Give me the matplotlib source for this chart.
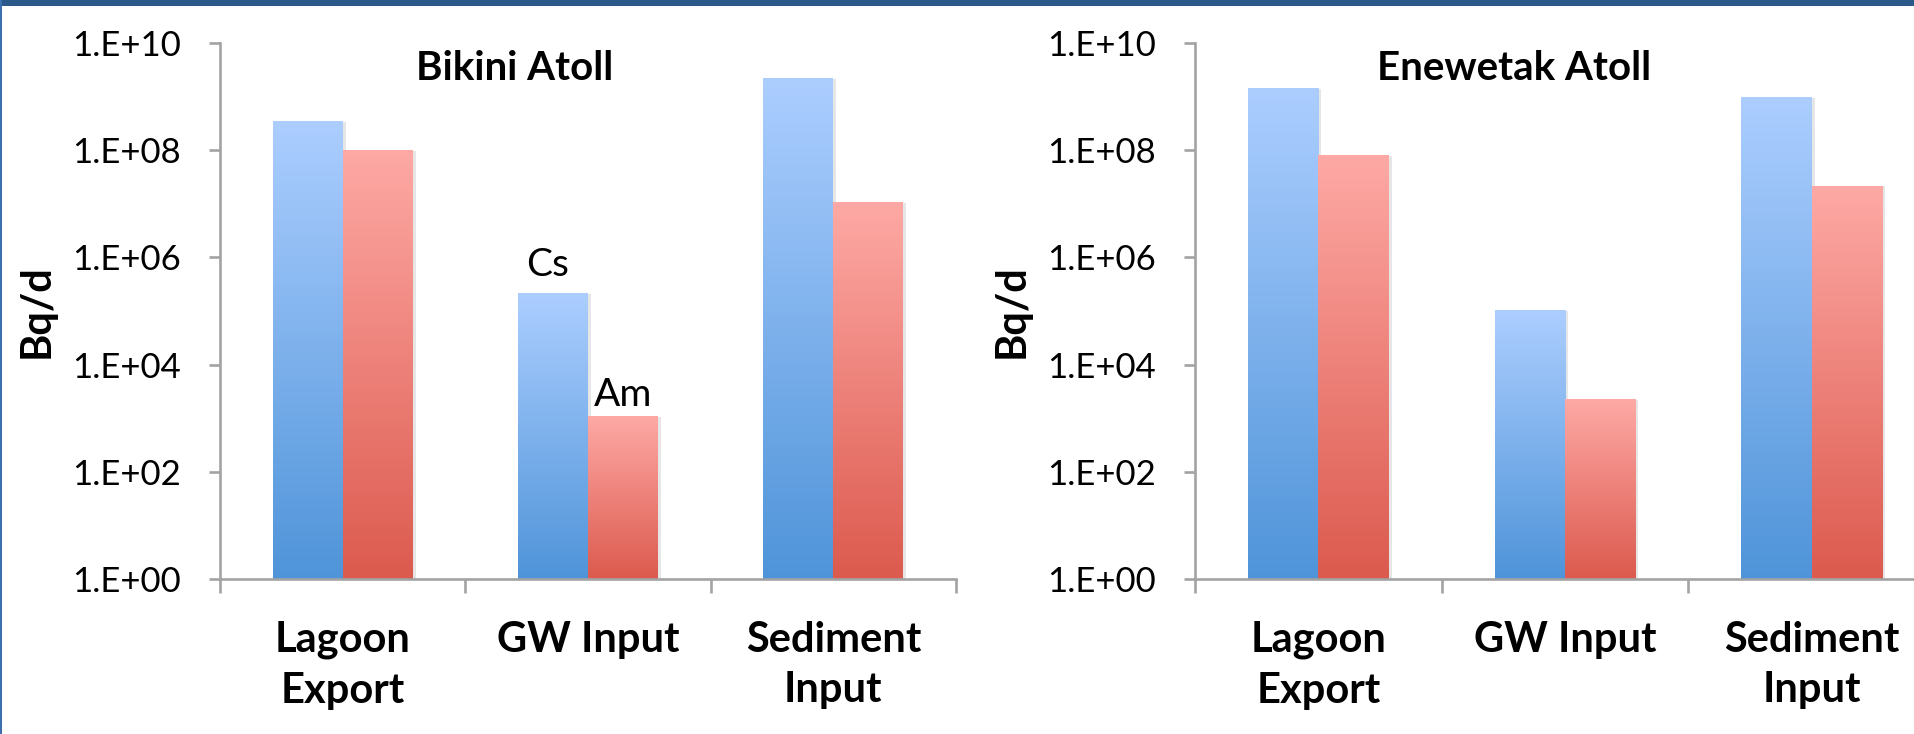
import numpy as np
import matplotlib
matplotlib.use("Agg")
import matplotlib.pyplot as plt
from matplotlib.transforms import Bbox, TransformedBbox, BboxTransformTo
from matplotlib.colors import LinearSegmentedColormap
from matplotlib.patches import Rectangle

plt.rcParams['font.family'] = ['Lato', 'DejaVu Sans']

categories = ["Lagoon\nExport", "GW Input", "Sediment\nInput"]
titles = ["Bikini Atoll", "Enewetak Atoll"]
# Bq/d
bikini_cs = [3.3e8, 2.1e5, 2.1e9]
bikini_am = [9.5e7, 1.05e3, 1.05e7]
enewetak_cs = [1.4e9, 1.0e5, 9.5e8]
enewetak_am = [7.7e7, 2.2e3, 2.1e7]
ytick_vals = [1e0, 1e2, 1e4, 1e6, 1e8, 1e10]
ytick_labels = ["1.E+00", "1.E+02", "1.E+04", "1.E+06", "1.E+08", "1.E+10"]

blue_cmap = LinearSegmentedColormap.from_list("b", ["#4f94d9", "#acceff"])
red_cmap = LinearSegmentedColormap.from_list("r", ["#dc5a4e", "#fea9a5"])
grad = np.linspace(0, 1, 256).reshape(-1, 1)
axis_col = "#a3a3a3"

fig = plt.figure(figsize=(19.15, 7.34), dpi=100)
W, H = 1915, 734


def gradient_bars(ax, bars, cmap):
    for b in bars:
        x, w, h = b.get_x(), b.get_width(), b.get_height()
        bb = TransformedBbox(Bbox.from_bounds(x, 1, w, h - 1), ax.transData)
        ax.imshow(grad, cmap=cmap, origin="lower", aspect="auto",
                  extent=(0, 1, 0, 1), transform=BboxTransformTo(bb),
                  zorder=2, interpolation="bilinear")
        b.set_visible(False)


def draw_panel(rect, cs, am, title, title_x, notes=False):
    ax = fig.add_axes(rect)
    x = np.arange(len(categories))
    bw = 0.285
    b1 = ax.bar(x - bw / 2, cs, bw, color="#7aaee8", zorder=2)
    b2 = ax.bar(x + bw / 2, am, bw, color="#ee8880", zorder=2)
    # faint shadows
    for b in list(b1) + list(b2):
        ax.add_patch(Rectangle((b.get_x() + b.get_width(), 1), 0.012, b.get_height() - 1,
                               color="#e6e6e6", zorder=1, lw=0))
    gradient_bars(ax, b1, blue_cmap)
    gradient_bars(ax, b2, red_cmap)
    ax.set_yscale("log")
    ax.set_ylim(1, 1e10)
    ax.set_xlim(-0.5, 2.5)
    ax.set_yticks(ytick_vals)
    ax.set_yticklabels(ytick_labels)
    ax.minorticks_off()
    ax.tick_params(axis="y", length=8, width=1.9, color=axis_col, pad=20, labelsize=25)
    ax.set_xticks([-0.5, 0.5, 1.5, 2.5])
    ax.set_xticklabels([])
    ax.tick_params(axis="x", length=10, width=1.9, color=axis_col)
    ax.set_xticks(x, minor=True)
    ax.set_xticklabels(categories, minor=True, fontweight="bold", fontsize=30,
                       linespacing=1.4, va="top")
    ax.tick_params(axis="x", which="minor", length=0, pad=30)
    for s in ["top", "right"]:
        ax.spines[s].set_visible(False)
    for s in ["left", "bottom"]:
        ax.spines[s].set_color(axis_col)
        ax.spines[s].set_linewidth(1.9)
    fig.text(title_x / W, 1 - 69 / H, title, ha="center", va="center",
             fontsize=29, fontweight="bold")
    ax.set_ylabel("Bq/d", fontsize=30, fontweight="bold", labelpad=12)
    if notes:
        ax.annotate("Cs", (x[1] - bw / 2, cs[1]), xytext=(-4, 8), textcoords="offset points",
                    ha="center", va="bottom", fontsize=28)
        ax.annotate("Am", (x[1] + bw / 2, am[1]), xytext=(0, 3), textcoords="offset points",
                    ha="center", va="bottom", fontsize=28)
    return ax


bottom = 1 - 579.3 / H
height = 536.6 / H
draw_panel([220 / W, bottom, 736 / W, height], bikini_cs, bikini_am, titles[0], 515, notes=True)
draw_panel([1195 / W, bottom, 740 / W, height], enewetak_cs, enewetak_am, titles[1], 1514)

# slide frame: dark band on top, thin line on the left
fig.add_artist(Rectangle((0, 1 - 6 / H), 1, 6 / H, transform=fig.transFigure,
                         color="#2b5a8a", lw=0))
fig.add_artist(Rectangle((0, 0), 2.5 / W, 1, transform=fig.transFigure,
                         color="#3d6fae", lw=0))

fig.savefig("out.png", dpi=100)
